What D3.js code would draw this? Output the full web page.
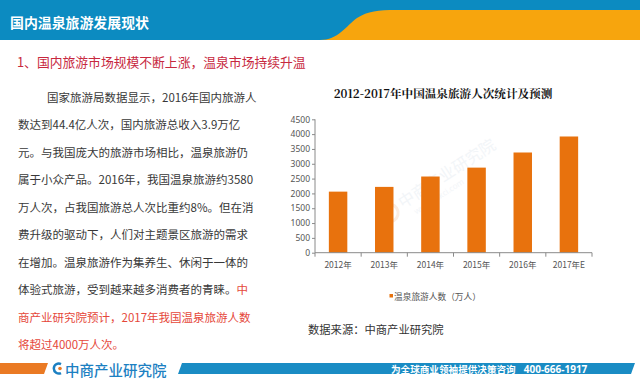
<!DOCTYPE html>
<html><head><meta charset="utf-8">
<script src="https://cdn.jsdelivr.net/npm/d3@7"></script>
<style>
html,body{margin:0;padding:0;background:#fff;}
svg{display:block;}
</style></head>
<body>
<script>
// ---- data ----
const categories = ["2012年","2013年","2014年","2015年","2016年","2017年E"];
const visitors = [2060, 2220, 2570, 2870, 3380, 3920];
const yTicks = [0,500,1000,1500,2000,2500,3000,3500,4000,4500];
const headerTitle = "国内温泉旅游发展现状";
const subTitle = "1、国内旅游市场规模不断上涨，温泉市场持续升温";
const chartTitle = "2012-2017年中国温泉旅游人次统计及预测";
const legendLabel = "温泉旅游人数（万人）";
const sourceText = "数据来源：中商产业研究院";
const bodyLines = [
  [["国家旅游局数据显示，2016年国内旅游人", false]],
  [["数达到44.4亿人次，国内旅游总收入3.9万亿", false]],
  [["元。与我国庞大的旅游市场相比，温泉旅游仍", false]],
  [["属于小众产品。2016年，我国温泉旅游约3580", false]],
  [["万人次，占我国旅游总人次比重约8%。但在消", false]],
  [["费升级的驱动下，人们对主题景区旅游的需求", false]],
  [["在增加。温泉旅游作为集养生、休闲于一体的", false]],
  [["体验式旅游，受到越来越多消费者的青睐。", false], ["中", true]],
  [["商产业研究院预计，2017年我国温泉旅游人数", true]],
  [["将超过4000万人次。", true]]
];
const footerSlogan = "为全球商业领袖提供决策咨询";
const footerPhone = "400-666-1917";
const footerLogo = "中商产业研究院";

const W = 640, H = 381;
const cjk = "'Noto Sans CJK SC','Noto Sans',sans-serif";
const svg = d3.select("body").append("svg").attr("width", W).attr("height", H);

// ---- header ----
svg.append("rect").attr("x",0).attr("y",0).attr("width",W).attr("height",40).attr("fill","#0c8bc1");
svg.append("path").attr("d","M320,40 C338,40 346,26 357,18 C368,11 378,10 396,10 L640,10 L640,40 Z").attr("fill","#f7a50d");
svg.append("text").attr("x",10).attr("y",21.5).attr("dominant-baseline","central")
  .attr("font-family",cjk).attr("font-weight",700).attr("font-size",13.9).attr("fill","#fff").text(headerTitle);

svg.append("text").attr("x",17).attr("y",61).attr("dominant-baseline","central")
  .attr("font-family",cjk).attr("font-size",12.8).attr("fill","#c7283e").text(subTitle);

// ---- body text ----
const body = svg.append("g").attr("font-family",cjk).attr("font-size",11.5);
bodyLines.forEach((segs,i)=>{
  const t = body.append("text").attr("x", i===0?47:18).attr("y", 96.5 + i*27.5)
    .attr("dominant-baseline","central");
  segs.forEach(([s,red])=>{
    t.append("tspan").attr("fill", red ? "#e5473a" : "#383838").text(s);
  });
});

// ---- chart ----
const x = d3.scaleBand().domain(categories).range([315, 592]).paddingInner(0.6).paddingOuter(0.3);
const y = d3.scaleLinear().domain([0,4500]).range([252.7, 119.3]);

svg.append("text").attr("x",443).attr("y",93).attr("text-anchor","middle").attr("dominant-baseline","central")
  .attr("font-family","'Noto Serif CJK SC','Noto Sans CJK SC',serif").attr("font-weight",700)
  .attr("font-size",11.6).attr("fill","#111").text(chartTitle);

// watermark
const wm = svg.append("g").attr("transform","translate(398,212) rotate(-33)").attr("opacity",0.4);
wm.append("circle").attr("cx",-8).attr("cy",-4).attr("r",9).attr("fill","none").attr("stroke","#f4d2b8").attr("stroke-width",3);
wm.append("text").attr("x",6).attr("y",0).attr("font-family",cjk).attr("font-size",16).attr("fill","#dfe8ef").text("中商产业研究院");
wm.append("text").attr("x",14).attr("y",12).attr("font-family","'Noto Sans',sans-serif").attr("font-size",8).attr("fill","#dfe8ef").text("www.askci.com");

svg.append("g").selectAll("rect").data(categories).join("rect")
  .attr("x", d=>x(d)).attr("width", x.bandwidth())
  .attr("y", (d,i)=>y(visitors[i])).attr("height",(d,i)=>y(0)-y(visitors[i]))
  .attr("fill","#e8720d");

const yAxis = svg.append("g").attr("transform","translate(315,0)")
  .call(d3.axisLeft(y).tickValues(yTicks).tickSize(3).tickPadding(2).tickFormat(d3.format("d")));
yAxis.select(".domain").attr("stroke","#8a8a8a").attr("d","M0,119.3V252.7");
yAxis.selectAll(".tick line").attr("stroke","#8a8a8a");
yAxis.selectAll(".tick text").attr("font-family","'Noto Sans',sans-serif").attr("font-size",8.5).attr("fill","#555");

const xAxis = svg.append("g").attr("transform",`translate(0,${y(0)})`)
  .call(d3.axisBottom(x).tickSize(0).tickPadding(9));
xAxis.select(".domain").attr("stroke","#8a8a8a").attr("d","M315,0H592");
xAxis.selectAll(".tick text").attr("font-family",cjk).attr("font-size",8.5).attr("fill","#555");
const bounds = categories.map(d=>x(d) - x.step()*x.paddingOuter()).concat([592]);
svg.append("g").selectAll("line").data(bounds).join("line")
  .attr("x1",d=>d).attr("x2",d=>d).attr("y1",y(0)).attr("y2",y(0)+4).attr("stroke","#8a8a8a");

// legend
svg.append("rect").attr("x",389.5).attr("y",294).attr("width",3.5).attr("height",3.5).attr("fill","#e8720d");
svg.append("text").attr("x",394).attr("y",296).attr("dominant-baseline","central")
  .attr("font-family",cjk).attr("font-size",8.7).attr("fill","#555").text(legendLabel);

svg.append("text").attr("x",308).attr("y",329).attr("dominant-baseline","central")
  .attr("font-family",cjk).attr("font-size",11.3).attr("fill","#333").text(sourceText);

// ---- footer ----
svg.append("path").attr("d","M0,363 L48,363 L44,374 L0,374 Z").attr("fill","#ea7a24");
svg.append("path").attr("d","M182,363 L635,363 L631,374 L178,374 Z").attr("fill","#1a8cc4");
svg.append("path").attr("d","M61,364 A5,5 0 1 0 61,373").attr("fill","none").attr("stroke","#1c80c2").attr("stroke-width",2.5);
svg.append("circle").attr("cx",60).attr("cy",368.5).attr("r",1.8).attr("fill","#ea7a24");
svg.append("text").attr("x",65).attr("y",369).attr("dominant-baseline","central")
  .attr("font-family",cjk).attr("font-weight",500).attr("font-size",14.5).attr("fill","#1c80c2").text(footerLogo);
const ft = svg.append("text").attr("x",391).attr("y",369).attr("dominant-baseline","central")
  .attr("font-family",cjk).attr("font-weight",700).attr("font-size",9.6).attr("fill","#fff");
ft.append("tspan").text(footerSlogan);
ft.append("tspan").attr("dx",8).attr("font-family","'Noto Sans',sans-serif").attr("font-size",10).text(footerPhone);
</script>
</body></html>
